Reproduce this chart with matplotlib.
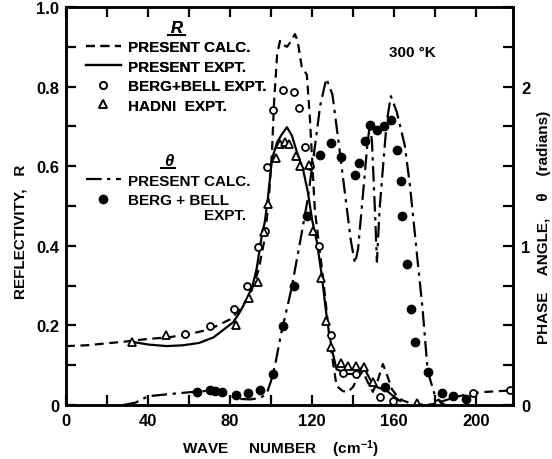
import matplotlib
matplotlib.use("Agg")
from matplotlib import pyplot as plt
from matplotlib.lines import Line2D

plt.rcParams['font.family'] = ['Liberation Sans', 'DejaVu Sans']
plt.rcParams['font.weight'] = 'bold'
plt.rcParams['axes.labelweight'] = 'bold'
plt.rcParams['mathtext.fontset'] = 'custom'
plt.rcParams['mathtext.rm'] = 'Liberation Sans'
plt.rcParams['mathtext.bf'] = 'Liberation Sans:bold'
plt.rcParams['mathtext.default'] = 'bf'

# reflectivity, present calculation (dashed)
calc_x = [0, 10, 20, 30, 40, 50, 60, 70, 80, 85, 90, 94, 97, 99, 100.5, 101.5, 103, 104.4, 106,
          107.8, 110, 111.7, 113, 115, 117.5, 119, 121.4, 125.3, 128.8, 132, 135, 137.6, 140, 142.5,
          144.8, 147, 149.7, 152, 154.6, 157, 159, 161.4, 164, 167.8, 172, 176, 180, 184, 190,
          198.5, 205, 212, 218]
calc_r = [0.148, 0.15, 0.155, 0.16, 0.166, 0.17, 0.178, 0.19, 0.215, 0.24, 0.28, 0.34, 0.42, 0.52,
          0.636, 0.76, 0.88, 0.915, 0.905, 0.90, 0.915, 0.932, 0.915, 0.85, 0.83, 0.72, 0.49, 0.324,
          0.158, 0.048, 0.035, 0.033, 0.045, 0.07, 0.085, 0.06, 0.033, 0.06, 0.103, 0.07, 0.04,
          0.023, 0.012, 0.005, 0.002, 0.0, 0.003, 0.01, 0.02, 0.03, 0.033, 0.035, 0.037]

# reflectivity, present experiment (solid)
expt_x = [33, 40, 49, 57, 65, 72, 81.6, 85, 88.2, 91, 93, 95.5, 97, 98.5, 100.5, 103, 105.3, 107.8,
          110.2, 112.7, 115.6, 118, 120, 122.4, 124.8, 127.3, 129.7, 132, 137, 141.9, 144.9, 148.3,
          151.7, 156.5, 159.5, 163]
expt_r = [0.158, 0.152, 0.148, 0.15, 0.156, 0.17, 0.208, 0.235, 0.266, 0.3, 0.342, 0.425, 0.46,
          0.52, 0.618, 0.66, 0.68, 0.698, 0.677, 0.635, 0.593, 0.535, 0.467, 0.41, 0.325, 0.216,
          0.14, 0.09, 0.078, 0.078, 0.098, 0.065, 0.045, 0.036, 0.023, 0.01]

# Berg + Bell reflectivity (open circles)
bb_x = [58, 70.4, 82, 88.2, 93.5, 97, 98, 101, 105.8, 111.2, 113.6, 116.6, 119, 123.4, 129.2,
        135.1, 141.4, 153.1, 159.5, 181.5, 198.5, 216.5]
bb_r = [0.178, 0.198, 0.24, 0.298, 0.397, 0.437, 0.598, 0.741, 0.791, 0.786, 0.746, 0.648, 0.60,
        0.40, 0.176, 0.08, 0.077, 0.02, 0.01, 0.005, 0.03, 0.037]

# Hadni reflectivity (triangles)
hadni_x = [32.3, 49, 83, 89.3, 93.6, 96.6, 98.5, 102.4, 104.4, 106.8, 108.6, 112.2, 114.2, 118.5,
           120.5, 124.4, 126.8, 129.5, 134.3, 137.5, 141.6, 145.3, 149.7, 171.2]
hadni_r = [0.158, 0.176, 0.2, 0.27, 0.31, 0.435, 0.505, 0.62, 0.656, 0.66, 0.655, 0.626, 0.6,
           0.603, 0.437, 0.32, 0.21, 0.145, 0.105, 0.098, 0.098, 0.095, 0.058, 0.005]

# phase angle, present calculation (dash-dot), radians
phase_x = [28, 34, 40, 50, 60, 68, 76, 80, 85, 90, 95, 98, 100, 102, 105, 110, 115, 118, 121, 124,
           127, 130, 133, 136, 139, 141, 142.5, 145, 147, 148.3, 149.3, 150.7, 151.7, 153, 155,
           156.5, 158.5, 161.4, 165.3, 167.8, 171.2, 174, 176.5, 180, 183, 185]
phase_th = [0.0, 0.015, 0.055, 0.068, 0.08, 0.088, 0.075, 0.055, 0.038, 0.035, 0.045, 0.075, 0.15,
            0.25, 0.45, 0.73, 1.08, 1.3, 1.58, 1.88, 2.05, 1.95, 1.65, 1.34, 1.03, 0.89, 0.98,
            1.34, 1.63, 1.77, 1.65, 1.23, 0.9, 1.23, 1.55, 1.78, 1.94, 1.84, 1.63, 1.38, 0.95,
            0.6, 0.21, 0.06, 0.013, 0.0]

# Berg + Bell phase angle (filled circles), radians
bbp_x = [63.9, 70.2, 72.7, 76.1, 82.9, 88.8, 94.6, 101, 105.8, 111.2, 117.5, 123.9, 129.2, 134.3,
         141, 142.9, 146, 148.3, 151.7, 155.3, 158.5, 161.4, 163.4, 163.9, 166.3, 168.3, 170.2,
         176.5, 183.4, 188.7, 195.1, 155.6]
bbp_th = [0.083, 0.095, 0.088, 0.083, 0.063, 0.075, 0.095, 0.195, 0.495, 0.75, 1.19, 1.57, 1.645,
          1.56, 1.445, 1.52, 1.66, 1.76, 1.725, 1.75, 1.79, 1.6, 1.41, 1.19, 0.885, 0.6, 0.395,
          0.21, 0.075, 0.058, 0.038, 0.11]

fig = plt.figure(figsize=(5.52, 4.6), dpi=100)
ax = fig.add_axes([0.1196, 0.1174, 0.8094, 0.8652])
ax2 = ax.twinx()

lw = 1.6
l_calc, = ax.plot(calc_x, calc_r, color='black', lw=lw, dashes=(4, 2.5))
l_expt, = ax.plot(expt_x, expt_r, color='black', lw=lw)
l_bb, = ax.plot(bb_x, bb_r, 'o', ms=5, mfc='white', mec='black', mew=1.3, ls='none')
l_had, = ax.plot(hadni_x, hadni_r, '^', ms=6, mfc='white', mec='black', mew=1.3, ls='none')
l_ph, = ax2.plot(phase_x, phase_th, color='black', lw=lw, dashes=(7, 2.5, 1.5, 2.5))
l_bbp, = ax2.plot(bbp_x, bbp_th, 'o', ms=6, color='black', ls='none')

ax.set_xlim(0, 218)
ax.set_ylim(0, 1.0)
ax2.set_ylim(0, 2.5)

ax.set_xticks(range(0, 220, 20))
ax.set_xticklabels(['0', '', '40', '', '80', '', '120', '', '160', '', '200'])
ax.set_yticks([i / 10 for i in range(11)])
ax.set_yticklabels(['0', '', '0.2', '', '0.4', '', '0.6', '', '0.8', '', '1.0'])
ax2.set_yticks([i * 0.25 for i in range(11)])
ax2.set_yticklabels(['0', '', '', '', '1', '', '', '', '2', '', ''])

ax.tick_params(direction='in', length=7, width=1.6, labelsize=12, top=True)
ax.tick_params(axis='x', pad=6)
ax.tick_params(axis='y', pad=5)
ax2.tick_params(direction='in', length=7, width=1.6, labelsize=12, pad=6)
for a in (ax, ax2):
    for s in a.spines.values():
        s.set_linewidth(1.8)

ax.set_xlabel('WAVE     NUMBER    (cm$^{-1}$)', fontsize=11)
ax.xaxis.set_label_coords(0.481, -0.082)
ax.set_ylabel('REFLECTIVITY,   R', fontsize=11)
ax.yaxis.set_label_coords(-0.087, 0.437)
ax2.set_ylabel('PHASE    ANGLE,    θ    (radians)', fontsize=11)
ax2.yaxis.set_label_coords(1.054, 0.45)

ax.text(169, 0.887, '300 °K', fontsize=11, ha='center', va='center')

leg1 = ax.legend([l_calc, l_expt, l_bb, l_had],
                 ['PRESENT CALC.', 'PRESENT EXPT.', 'BERG+BELL EXPT.', 'HADNI  EXPT.'],
                 loc='upper left', bbox_to_anchor=(0.02, 0.995), frameon=False,
                 fontsize=11, handlelength=2.3, handletextpad=0.5, labelspacing=0.36,
                 title='R', title_fontsize=12, borderpad=0.2)
leg1.get_title().set_fontstyle('italic')
ax.add_artist(leg1)
leg2 = ax2.legend([l_ph, l_bbp], ['PRESENT CALC.', 'BERG + BELL'],
                  loc='upper left', bbox_to_anchor=(0.02, 0.66), frameon=False,
                  fontsize=11, handlelength=2.3, handletextpad=0.5, labelspacing=0.36,
                  title='θ', title_fontsize=12, borderpad=0.2)
leg2.get_title().set_fontstyle('italic')

# underline the legend titles, second line of the last entry
fig.canvas.draw()
for leg in (leg1, leg2):
    bb = leg.get_title().get_window_extent().transformed(fig.transFigure.inverted())
    fig.add_artist(Line2D([bb.x0 - 0.004, bb.x1 + 0.004], [bb.y0, bb.y0],
                          color='black', lw=1.5))
bb = leg2.get_texts()[1].get_window_extent()
fig.text((bb.x1 + 17) / 552, (bb.y0 - 15) / 460, 'EXPT.', fontsize=11, ha='right', va='bottom')

fig.savefig('out.png', dpi=100, facecolor='white')
